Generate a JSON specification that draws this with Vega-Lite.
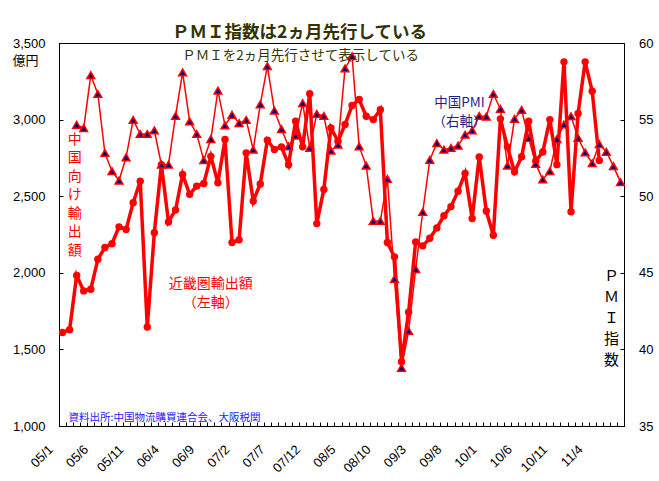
{
  "$schema": "https://vega.github.io/schema/vega-lite/v6.json",
  "width": 565,
  "height": 383,
  "autosize": "none",
  "padding": {"left": 59, "top": 43, "right": 35, "bottom": 55},
  "background": "white",
  "title": {
    "text": "ＰＭＩ指数は2ヵ月先行している",
    "font": "Noto Sans CJK JP",
    "fontSize": 17.5,
    "fontWeight": "bold",
    "color": "#333300",
    "anchor": "middle",
    "dx": -42,
    "offset": -4
  },
  "config": {
    "view": {"stroke": "#000000", "strokeWidth": 1},
    "axis": {"grid": false, "domainColor": "#000000", "tickColor": "#000000", "labelColor": "#000000", "labelFont": "Liberation Sans", "labelFontSize": 13}
  },
  "datasets": {
    "main": [
      {"m": "05/1", "exp": 1610},
      {"m": "05/2", "exp": 1628},
      {"m": "05/3", "exp": 1982, "pmi": 54.66},
      {"m": "05/4", "exp": 1882, "pmi": 54.45},
      {"m": "05/5", "exp": 1893, "pmi": 57.9},
      {"m": "05/6", "exp": 2088, "pmi": 56.67},
      {"m": "05/7", "exp": 2165, "pmi": 52.82},
      {"m": "05/8", "exp": 2190, "pmi": 51.63},
      {"m": "05/9", "exp": 2300, "pmi": 51.02},
      {"m": "05/10", "exp": 2283, "pmi": 52.54},
      {"m": "05/11", "exp": 2458, "pmi": 54.98},
      {"m": "05/12", "exp": 2598, "pmi": 54.06},
      {"m": "06/1", "exp": 1646, "pmi": 54.06},
      {"m": "06/2", "exp": 2262, "pmi": 54.29},
      {"m": "06/3", "exp": 2706, "pmi": 52.06},
      {"m": "06/4", "exp": 2332, "pmi": 52.06},
      {"m": "06/5", "exp": 2410, "pmi": 55.24},
      {"m": "06/6", "exp": 2642, "pmi": 58.08},
      {"m": "06/7", "exp": 2512, "pmi": 54.88},
      {"m": "06/8", "exp": 2566, "pmi": 54.06},
      {"m": "06/9", "exp": 2583, "pmi": 52.35},
      {"m": "06/10", "exp": 2760, "pmi": 53.73},
      {"m": "06/11", "exp": 2588, "pmi": 56.89},
      {"m": "06/12", "exp": 2870, "pmi": 54.62},
      {"m": "07/1", "exp": 2198, "pmi": 55.31},
      {"m": "07/2", "exp": 2215, "pmi": 54.77},
      {"m": "07/3", "exp": 2783, "pmi": 54.98},
      {"m": "07/4", "exp": 2468, "pmi": 53.04},
      {"m": "07/5", "exp": 2580, "pmi": 56.0},
      {"m": "07/6", "exp": 2865, "pmi": 58.49},
      {"m": "07/7", "exp": 2805, "pmi": 55.59},
      {"m": "07/8", "exp": 2822, "pmi": 54.38},
      {"m": "07/9", "exp": 2706, "pmi": 53.25},
      {"m": "07/10", "exp": 2990, "pmi": 53.95},
      {"m": "07/11", "exp": 2822, "pmi": 56.07},
      {"m": "07/12", "exp": 3169, "pmi": 53.15},
      {"m": "08/1", "exp": 2321, "pmi": 55.37},
      {"m": "08/2", "exp": 2544, "pmi": 55.24},
      {"m": "08/3", "exp": 2946, "pmi": 52.97},
      {"m": "08/4", "exp": 2859, "pmi": 53.36},
      {"m": "08/5", "exp": 2968, "pmi": 58.34},
      {"m": "08/6", "exp": 3092, "pmi": 59.14},
      {"m": "08/7", "exp": 3131, "pmi": 53.25},
      {"m": "08/8", "exp": 3022, "pmi": 52.0},
      {"m": "08/9", "exp": 3000, "pmi": 48.38},
      {"m": "08/10", "exp": 3065, "pmi": 48.38},
      {"m": "08/11", "exp": 2198, "pmi": 51.13},
      {"m": "08/12", "exp": 2104, "pmi": 44.6},
      {"m": "09/1", "exp": 1420, "pmi": 38.8},
      {"m": "09/2", "exp": 1742, "pmi": 41.2},
      {"m": "09/3", "exp": 2202, "pmi": 45.24},
      {"m": "09/4", "exp": 2176, "pmi": 48.97},
      {"m": "09/5", "exp": 2225, "pmi": 52.37},
      {"m": "09/6", "exp": 2293, "pmi": 53.47},
      {"m": "09/7", "exp": 2372, "pmi": 53.04},
      {"m": "09/8", "exp": 2432, "pmi": 53.15},
      {"m": "09/9", "exp": 2533, "pmi": 53.3},
      {"m": "09/10", "exp": 2649, "pmi": 54.01},
      {"m": "09/11", "exp": 2354, "pmi": 54.29},
      {"m": "09/12", "exp": 2756, "pmi": 55.24},
      {"m": "10/1", "exp": 2403, "pmi": 55.2},
      {"m": "10/2", "exp": 2245, "pmi": 56.67},
      {"m": "10/3", "exp": 3005, "pmi": 55.7},
      {"m": "10/4", "exp": 2822, "pmi": 52.0},
      {"m": "10/5", "exp": 2660, "pmi": 55.05},
      {"m": "10/6", "exp": 2757, "pmi": 55.63},
      {"m": "10/7", "exp": 2990, "pmi": 53.8},
      {"m": "10/8", "exp": 2729, "pmi": 52.11},
      {"m": "10/9", "exp": 2788, "pmi": 51.09},
      {"m": "10/10", "exp": 3000, "pmi": 51.63},
      {"m": "10/11", "exp": 2706, "pmi": 53.73},
      {"m": "10/12", "exp": 3377, "pmi": 54.68},
      {"m": "11/1", "exp": 2398, "pmi": 55.22},
      {"m": "11/2", "exp": 3040, "pmi": 53.8},
      {"m": "11/3", "exp": 3377, "pmi": 52.86},
      {"m": "11/4", "exp": 3185, "pmi": 52.15},
      {"m": "11/5", "exp": 2733, "pmi": 53.4},
      {"m": "11/6", "pmi": 52.9},
      {"m": "11/7", "pmi": 51.96},
      {"m": "11/8", "pmi": 50.92}
    ]
  },
  "layer": [
    {
      "data": {"name": "main"},
      "mark": {"type": "line", "color": "#FF0000", "strokeWidth": 3.5, "point": {"filled": true, "fill": "#FF0000", "size": 55}},
      "encoding": {
        "x": {
          "field": "m", "type": "ordinal", "bandPosition": 0.5,
          "scale": {"type": "band", "paddingInner": 0, "paddingOuter": 0, "domain": ["05/1","05/2","05/3","05/4","05/5","05/6","05/7","05/8","05/9","05/10","05/11","05/12","06/1","06/2","06/3","06/4","06/5","06/6","06/7","06/8","06/9","06/10","06/11","06/12","07/1","07/2","07/3","07/4","07/5","07/6","07/7","07/8","07/9","07/10","07/11","07/12","08/1","08/2","08/3","08/4","08/5","08/6","08/7","08/8","08/9","08/10","08/11","08/12","09/1","09/2","09/3","09/4","09/5","09/6","09/7","09/8","09/9","09/10","09/11","09/12","10/1","10/2","10/3","10/4","10/5","10/6","10/7","10/8","10/9","10/10","10/11","10/12","11/1","11/2","11/3","11/4","11/5","11/6","11/7","11/8"]},
          "axis": {
            "title": null, "labelAngle": -45, "labelAlign": "right", "labelBaseline": "middle",
            "labelOffset": -12, "labelPadding": 25, "tickSize": -4, "tickBand": "extent",
            "labelOverlap": false, "labelBound": false, "labelFlush": false,
            "labelExpr": "indexof(['05/1','05/6','05/11','06/4','06/9','07/2','07/7','07/12','08/5','08/10','09/3','09/8','10/1','10/6','10/11','11/4'], datum.value) >= 0 ? datum.value : ''"
          }
        },
        "y": {
          "field": "exp", "type": "quantitative",
          "scale": {"domain": [1000, 3500], "nice": false, "zero": false},
          "axis": {
            "orient": "left", "values": [1000, 1500, 2000, 2500, 3000, 3500], "format": ",d",
            "tickSize": -4, "labelPadding": 18,
            "title": "億円", "titleAngle": 0, "titleX": -47, "titleY": 17, "titleAlign": "left", "titleBaseline": "middle",
            "titleFont": "Noto Sans CJK JP", "titleFontSize": 13, "titleFontWeight": "normal", "titleColor": "#000000"
          }
        }
      }
    },
    {
      "data": {"name": "main"},
      "mark": {"type": "line", "color": "#FF0000", "strokeWidth": 1.5, "point": {"shape": "triangle-up", "filled": true, "fill": "#000080", "stroke": "#FF0000", "strokeWidth": 1.5, "size": 60}},
      "encoding": {
        "x": {"field": "m", "type": "ordinal", "bandPosition": 0.5},
        "y": {
          "field": "pmi", "type": "quantitative",
          "scale": {"domain": [35, 60], "nice": false, "zero": false},
          "axis": {"orient": "right", "values": [35, 40, 45, 50, 55, 60], "tickSize": -4, "labelPadding": 18.5, "title": null}
        }
      }
    },
    {
      "data": {"values": [{"m": "07/11", "v": 3412, "t": "ＰＭＩを2ヵ月先行させて表示している"}]},
      "mark": {"type": "text", "font": "Noto Sans CJK JP", "fontSize": 13.5, "color": "#333300", "align": "center", "baseline": "middle", "dx": -2},
      "encoding": {
        "x": {"field": "m", "type": "ordinal", "bandPosition": 0.5},
        "y": {"field": "v", "type": "quantitative", "scale": {"domain": [1000, 3500], "nice": false, "zero": false}, "axis": null},
        "text": {"field": "t"}
      }
    },
    {
      "data": {"values": [{"m": "05/3", "v": 2869, "t": ["中","国","向","け","輸","出","額"]}]},
      "mark": {"type": "text", "font": "Noto Sans CJK JP", "fontSize": 14, "color": "#FF0000", "align": "center", "baseline": "middle", "lineHeight": 18.5, "dx": -2},
      "encoding": {
        "x": {"field": "m", "type": "ordinal", "bandPosition": 0.5},
        "y": {"field": "v", "type": "quantitative", "scale": {"domain": [1000, 3500], "nice": false, "zero": false}, "axis": null},
        "text": {"field": "t"}
      }
    },
    {
      "data": {"values": [{"m": "06/10", "v": 1930, "t": ["近畿圏輸出額", "（左軸）"]}]},
      "mark": {"type": "text", "font": "Noto Sans CJK JP", "fontSize": 14, "color": "#FF0000", "align": "center", "baseline": "middle", "lineHeight": 19},
      "encoding": {
        "x": {"field": "m", "type": "ordinal", "bandPosition": 0.5},
        "y": {"field": "v", "type": "quantitative", "scale": {"domain": [1000, 3500], "nice": false, "zero": false}, "axis": null},
        "text": {"field": "t"}
      }
    },
    {
      "data": {"values": [{"m": "09/9", "v": 3110, "t": ["中国PMI", "（右軸）"]}]},
      "mark": {"type": "text", "font": "Noto Sans CJK JP", "fontSize": 13.5, "color": "#1F1F8A", "align": "center", "baseline": "middle", "lineHeight": 19, "dx": 1.5},
      "encoding": {
        "x": {"field": "m", "type": "ordinal", "bandPosition": 0.5},
        "y": {"field": "v", "type": "quantitative", "scale": {"domain": [1000, 3500], "nice": false, "zero": false}, "axis": null},
        "text": {"field": "t"}
      }
    },
    {
      "data": {"values": [{"m": "11/7", "v": 1982, "t": ["Ｐ","Ｍ","Ｉ","指","数"]}]},
      "mark": {"type": "text", "font": "Noto Sans CJK JP", "fontSize": 15, "color": "#000000", "align": "center", "baseline": "middle", "lineHeight": 21, "dx": -2},
      "encoding": {
        "x": {"field": "m", "type": "ordinal", "bandPosition": 0.5},
        "y": {"field": "v", "type": "quantitative", "scale": {"domain": [1000, 3500], "nice": false, "zero": false}, "axis": null},
        "text": {"field": "t"}
      }
    },
    {
      "data": {"values": [{"m": "05/2", "v": 1050, "t": "資料出所:中国物流購買連合会、大阪税関"}]},
      "mark": {"type": "text", "font": "Noto Sans CJK JP", "fontSize": 10.5, "color": "#2020FF", "align": "left", "baseline": "middle", "dx": -1},
      "encoding": {
        "x": {"field": "m", "type": "ordinal", "bandPosition": 0.5},
        "y": {"field": "v", "type": "quantitative", "scale": {"domain": [1000, 3500], "nice": false, "zero": false}, "axis": null},
        "text": {"field": "t"}
      }
    }
  ],
  "resolve": {"scale": {"y": "independent"}}
}
